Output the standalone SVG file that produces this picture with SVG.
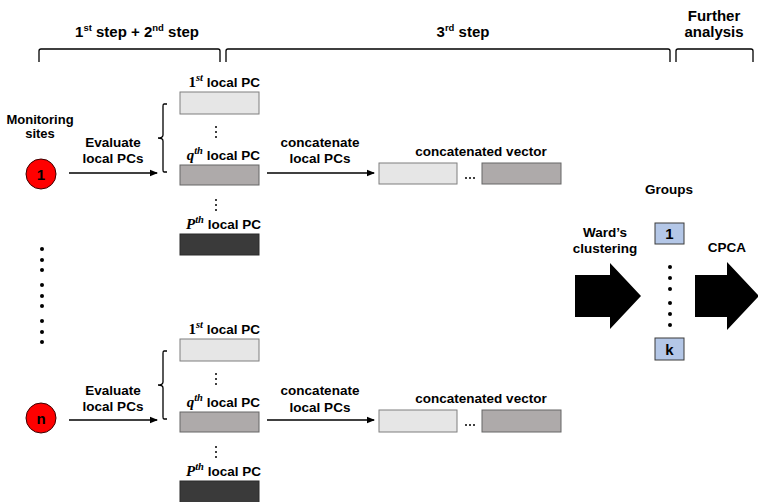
<svg xmlns="http://www.w3.org/2000/svg" width="758" height="502" viewBox="0 0 758 502">
<defs>
<marker id="ah" markerWidth="8" markerHeight="8" refX="7" refY="4" orient="auto" markerUnits="userSpaceOnUse">
<path d="M0,0.8 L8,4 L0,7.2 Z" fill="#000"/>
</marker>
<style>
text{font-family:"Liberation Sans",Arial,sans-serif;font-weight:bold;fill:#000}
.h{font-size:15px}
.m{font-size:13.5px}
.s{font-size:13px}
.c{text-anchor:middle}
.e{text-anchor:end}
.it{font-family:"Liberation Serif","Times New Roman",serif;font-style:italic;font-weight:bold;font-size:15px}
.up{font-style:normal}
.sup{font-size:9.5px}
.sup2{font-size:10.5px}
.b1{fill:#e6e6e6;stroke:#7f7f7f;stroke-width:1}
.b2{fill:#aeaaaa;stroke:#666;stroke-width:1}
.b3{fill:#3a3a3a;stroke:#2a2a2a;stroke-width:1}
.gb{fill:#b4c7e7;stroke:#3b3b3b;stroke-width:1}
.site{fill:#ff0000;stroke:#3a0000;stroke-width:1}
.ln{fill:none;stroke:#000;stroke-width:1.5}
.br{fill:none;stroke:#000;stroke-width:1.3}
.dot{fill:#000}
.big{fill:#000}
</style>
</defs>

<g id="headers">
<text class="h c" x="137" y="37">1<tspan class="sup" dy="-6">st</tspan><tspan dy="6"> step + 2</tspan><tspan class="sup" dy="-6">nd</tspan><tspan dy="6"> step</tspan></text>
<text class="h c" x="463" y="37">3<tspan class="sup" dy="-6">rd</tspan><tspan dy="6"> step</tspan></text>
<text class="h c" x="714" y="21">Further</text>
<text class="h c" x="714" y="37">analysis</text>
<path class="br" d="M39,62 V51 Q39,49 41,49 H218 Q220,49 220,51 V62"/>
<path class="br" d="M226,62 V51 Q226,49 228,49 H668 Q670,49 670,51 V62"/>
<path class="br" d="M676,62 V51 Q676,49 678,49 H751 Q753,49 753,51 V62"/>
</g>

<g id="monitoring-label">
<text class="s c" x="40" y="124">Monitoring</text>
<text class="s c" x="40" y="138">sites</text>
</g>

<g id="site-1">
<circle class="site" cx="41" cy="174" r="15"/>
<text class="c" style="font-size:15px" x="41" y="179.5">1</text>
</g>

<g id="site-dots">
<circle class="dot" cx="42" cy="249" r="2"/>
<circle class="dot" cx="42" cy="260" r="2"/>
<circle class="dot" cx="42" cy="270" r="2"/>
<circle class="dot" cx="42" cy="285" r="2"/>
<circle class="dot" cx="42" cy="296" r="2"/>
<circle class="dot" cx="42" cy="306" r="2"/>
<circle class="dot" cx="42" cy="321" r="2"/>
<circle class="dot" cx="42" cy="332" r="2"/>
<circle class="dot" cx="42" cy="342" r="2"/>
</g>

<g id="site-n">
<circle class="site" cx="41" cy="418" r="15"/>
<text class="c" style="font-size:15px" x="41" y="423.5">n</text>
</g>

<g id="local-pcs-1">
<text class="m e" x="260" y="87"><tspan class="it"><tspan class="up">1</tspan><tspan class="sup2" dy="-6">st</tspan></tspan><tspan dy="6"> local PC</tspan></text>
<rect class="b1" x="180" y="92" width="79" height="22"/>
<circle class="dot" cx="216" cy="127" r="1"/>
<circle class="dot" cx="216" cy="132" r="1"/>
<circle class="dot" cx="216" cy="137" r="1"/>
<text class="m e" x="260" y="160"><tspan class="it">q<tspan class="sup2" dy="-6">th</tspan></tspan><tspan dy="6"> local PC</tspan></text>
<rect class="b2" x="180" y="165" width="79" height="20"/>
<circle class="dot" cx="216" cy="200" r="1"/>
<circle class="dot" cx="216" cy="205" r="1"/>
<circle class="dot" cx="216" cy="210" r="1"/>
<text class="m e" x="261" y="229"><tspan class="it">P<tspan class="sup2" dy="-6">th</tspan></tspan><tspan dy="6"> local PC</tspan></text>
<rect class="b3" x="180" y="234" width="79" height="21"/>
</g>

<g id="local-pcs-n">
<text class="m e" x="260" y="334"><tspan class="it"><tspan class="up">1</tspan><tspan class="sup2" dy="-6">st</tspan></tspan><tspan dy="6"> local PC</tspan></text>
<rect class="b1" x="180" y="339" width="79" height="22"/>
<circle class="dot" cx="216" cy="374" r="1"/>
<circle class="dot" cx="216" cy="379" r="1"/>
<circle class="dot" cx="216" cy="384" r="1"/>
<text class="m e" x="260" y="407"><tspan class="it">q<tspan class="sup2" dy="-6">th</tspan></tspan><tspan dy="6"> local PC</tspan></text>
<rect class="b2" x="180" y="412" width="79" height="20"/>
<circle class="dot" cx="216" cy="447" r="1"/>
<circle class="dot" cx="216" cy="452" r="1"/>
<circle class="dot" cx="216" cy="457" r="1"/>
<text class="m e" x="261" y="476"><tspan class="it">P<tspan class="sup2" dy="-6">th</tspan></tspan><tspan dy="6"> local PC</tspan></text>
<rect class="b3" x="180" y="481" width="79" height="23"/>
</g>

<g id="concat-vector-1">
<text class="m c" x="481" y="156">concatenated vector</text>
<rect class="b1" x="379" y="163" width="78" height="21"/>
<circle class="dot" cx="466" cy="178" r="1"/>
<circle class="dot" cx="470" cy="178" r="1"/>
<circle class="dot" cx="474" cy="178" r="1"/>
<rect class="b2" x="482" y="163" width="79" height="21"/>
</g>

<g id="concat-vector-n">
<text class="m c" x="481" y="403">concatenated vector</text>
<rect class="b1" x="379" y="410" width="78" height="22"/>
<circle class="dot" cx="466" cy="425" r="1"/>
<circle class="dot" cx="470" cy="425" r="1"/>
<circle class="dot" cx="474" cy="425" r="1"/>
<rect class="b2" x="482" y="410" width="79" height="22"/>
</g>

<g id="groups">
<text class="m c" x="669" y="194">Groups</text>
<rect class="gb" x="655" y="223" width="29" height="21"/>
<text class="c" style="font-size:15px" x="669.5" y="239">1</text>
<circle class="dot" cx="670" cy="267" r="2"/>
<circle class="dot" cx="670" cy="278" r="2"/>
<circle class="dot" cx="670" cy="289" r="2"/>
<circle class="dot" cx="670" cy="303" r="2"/>
<circle class="dot" cx="670" cy="314" r="2"/>
<circle class="dot" cx="670" cy="325" r="2"/>
<rect class="gb" x="655" y="338" width="29" height="22"/>
<text class="c" style="font-size:15px" x="669.5" y="355">k</text>
</g>

<g id="wards-clustering">
<text class="m c" x="605" y="237">Ward’s</text>
<text class="m c" x="605" y="253">clustering</text>
<path class="big" d="M575,275 H610 V263 L641,296 L610,329 V317 H575 Z"/>
</g>

<g id="cpca">
<text class="m c" x="727" y="252">CPCA</text>
<path class="big" d="M695,275 H727 V262 L759,296 L727,330 V317 H695 Z"/>
</g>

<g id="connectors">
<text class="m c" x="113" y="147">Evaluate</text>
<text class="m c" x="113" y="163">local PCs</text>
<line class="ln" x1="69" y1="173" x2="157" y2="173" marker-end="url(#ah)"/>
<path class="br" d="M167,104 H164 Q163,104 163,106 V135 Q163,138 158,138 Q163,138 163,141 V170 Q163,172 164,172 H167" stroke-width="1"/>
<text class="m c" x="320" y="147">concatenate</text>
<text class="m c" x="320" y="163">local PCs</text>
<line class="ln" x1="267" y1="173" x2="374" y2="173" marker-end="url(#ah)"/>

<text class="m c" x="113" y="395">Evaluate</text>
<text class="m c" x="113" y="411">local PCs</text>
<line class="ln" x1="69" y1="420" x2="157" y2="420" marker-end="url(#ah)"/>
<path class="br" d="M167,351 H164 Q163,351 163,353 V382 Q163,385 158,385 Q163,385 163,388 V417 Q163,419 164,419 H167" stroke-width="1"/>
<text class="m c" x="320" y="395">concatenate</text>
<text class="m c" x="320" y="412">local PCs</text>
<line class="ln" x1="267" y1="420" x2="374" y2="420" marker-end="url(#ah)"/>
</g>
</svg>
